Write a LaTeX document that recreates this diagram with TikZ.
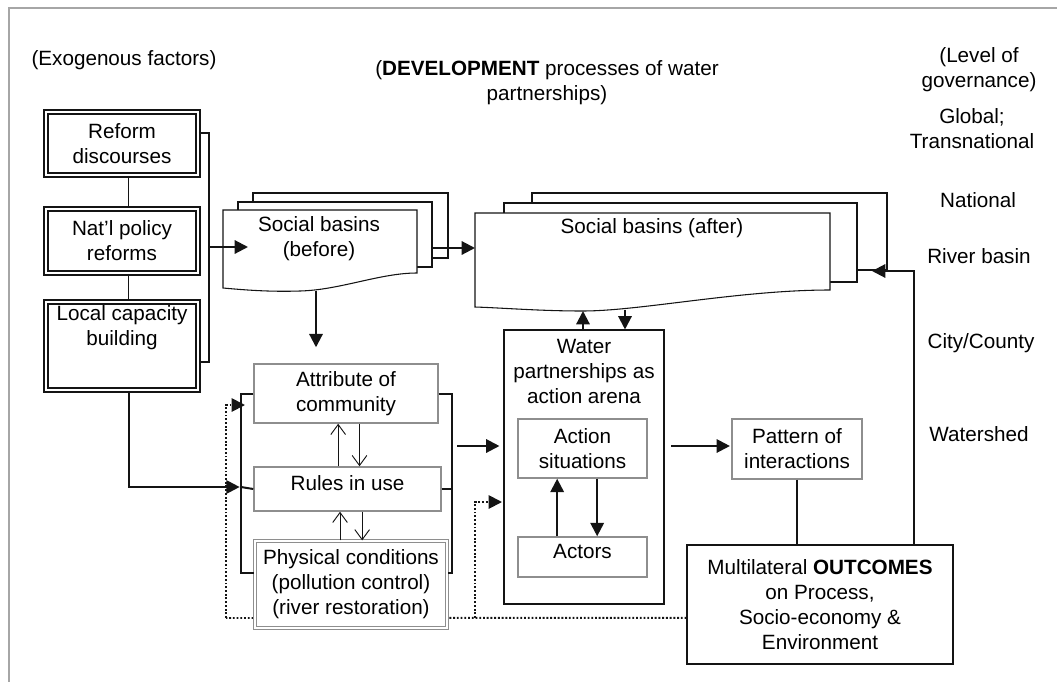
\documentclass[tikz,border=0pt]{standalone}
\usepackage{fontspec}
\setmainfont{Liberation Sans}
\usepackage{tikz}
\usetikzlibrary{arrows.meta,backgrounds,positioning}
\definecolor{WPGray}{HTML}{8E8E8E}
\definecolor{WPFrame}{HTML}{A6A6A6}
\definecolor{WPInk}{HTML}{141414}
\tikzset{
  exobox/.style={
    draw=WPInk,
    double=white,
    double distance=1.4pt,
    line width=1.4pt,
    fill=white,
    align=center,
    inner sep=2pt
  },
  graybox/.style={
    draw=WPGray,
    line width=1.1pt,
    fill=white,
    align=center,
    inner sep=2pt
  },
  graydouble/.style={graybox,double=white,double distance=1.6pt,line width=0.9pt},
  plainbox/.style={draw=WPInk,line width=0.8pt,fill=white,align=center,inner sep=2pt},
  page/.style={draw=WPInk,line width=0.8pt,fill=white},
  arrow/.style={-{Triangle[length=10pt,width=10pt]},draw=WPInk,line width=1.6pt},
  thinarrow/.style={-{Straight Barb[length=7.5pt,width=11pt]},draw=WPInk,line width=0.7pt},
  bracket/.style={draw=WPInk,line width=1.5pt},
  link/.style={draw=WPInk,line width=0.8pt},
  dotline/.style={draw=WPInk,line width=1.4pt,dash pattern=on 1.4pt off 1.4pt},
  dotarrow/.style={dotline,-{Triangle[length=10pt,width=10pt]}},
  frame/.style={draw=WPFrame,line width=0.9pt}
}

\begin{document}
\begin{tikzpicture}[x=0.75pt,y=-0.75pt,font=\fontsize{15.5}{18.75}\selectfont]
  \useasboundingbox (0,0) rectangle (1057,682);
  \draw[frame] (9,682) -- (9,8) -- (1057,8);

  % headings and governance levels
  \node (exohead) at (124,60) {(Exogenous factors)};
  \node[align=center] (devhead) at (547,83) {(\textbf{DEVELOPMENT} processes of water\\partnerships)};
  \node[align=center] (govhead) at (979,70) {(Level of\\governance)};
  \node[align=center] (global) at (972,129) {Global;\\Transnational};
  \node (national) at (978,200) {National};
  \node (riverbasin) at (979,256) {River basin};
  \node (citycounty) at (981,343) {City/County};
  \node (watershed) at (979,434) {Watershed};

  % exogenous factors
  \node[exobox,minimum width=114pt,minimum height=47.25pt] (reform) at (122,143.5) {Reform\\discourses};
  \node[exobox,minimum width=114pt,minimum height=48pt] (natl) at (122,241) {Nat’l policy\\reforms};
  \node[exobox,minimum width=114pt,minimum height=66pt,
    label={[align=center,anchor=north]north:{Local capacity\\building}}] (local) at (122,346) {};
  \draw[link] ([xshift=5pt]reform.south) -- ([xshift=5pt]natl.north);
  \draw[link] ([xshift=5pt]natl.south) -- ([xshift=5pt]local.north);
  \coordinate (exoR) at (209,247);
  \draw[bracket] ([yshift=7.9pt]reform.east) -| (exoR) |- ([yshift=-12pt]local.east);

  % social basins, before and after
  \draw[page] (253,193) rectangle (448,258);
  \draw[page] (238,202) rectangle (432,267);
  \draw[page] (223,210) -- (417,210) -- (417,273)
    .. controls (380,273) and (340,290) .. (300,291)
    .. controls (270,292) and (245,290) .. (223,288) -- cycle;
  \node[align=center] (before) at (319,238.5) {Social basins\\(before)};
  \draw[page] (532,193) rectangle (887,270);
  \draw[page] (504,203) rectangle (857,282);
  \draw[page] (475,213) -- (830,213) -- (830,290)
    .. controls (740,290) and (640,311) .. (583,311)
    .. controls (540,311) and (505,308) .. (475,307) -- cycle;
  \node (after) at (652,228) {Social basins (after)};
  \coordinate (beforeIn) at (248,247);
  \coordinate (beforeR) at (432,248);
  \coordinate (beforeB) at (316,291);
  \coordinate (afterL) at (475,248);
  \coordinate (afterB1) at (583,311);
  \coordinate (afterB2) at (625,310);
  \coordinate (afterR) at (872,271);

  % community, rules, physical conditions
  \node[graybox,minimum width=138pt,minimum height=44.25pt] (attr) at (346,393.5) {Attribute of\\community};
  \node[graybox,minimum width=140.25pt,minimum height=33pt,text depth=9pt] (rules) at (347.5,489) {Rules in use};
  \node[graydouble,minimum width=144pt,minimum height=65.25pt] (phys) at (351,584.5)
    {Physical conditions\\(pollution control)\\(river restoration)};

  % action arena
  \node[plainbox,minimum width=120pt,minimum height=205.5pt,
    label={[align=center,anchor=north,yshift=-3.5pt]north:{Water\\partnerships as\\action arena}}] (arena) at (584,467) {};
  \node[graybox,minimum width=96.75pt,minimum height=44.25pt] (action) at (582.5,448.5) {Action\\situations};
  \node[graybox,minimum width=96.75pt,minimum height=30pt,text depth=8pt] (actors) at (582.5,557) {Actors};
  \node[graybox,minimum width=97.5pt,minimum height=45pt] (pattern) at (797,449) {Pattern of\\interactions};
  \node[plainbox,minimum width=199.5pt,minimum height=89.25pt] (outc) at (820,604.5)
    {Multilateral \textbf{OUTCOMES}\\on Process,\\Socio-economy \&\\Environment};

  % connectors
  \draw[arrow] (exoR) -- (beforeIn);
  \draw[arrow] (beforeR) -- (afterL);
  \draw[arrow,shorten >=12pt] (beforeB) -- (beforeB |- attr.north);
  \coordinate (lbr) at (241,487);
  \draw[bracket] (attr.west) -| (lbr) |- ([yshift=8.6pt]phys.west);
  \draw[bracket] (lbr) -- (rules.west);
  \draw[arrow,shorten >=1pt] ([xshift=5pt]local.south) |- (lbr);
  \coordinate (rbr) at (452,446);
  \draw[bracket] (attr.east) -| (rbr) |- ([yshift=9pt]phys.east);
  \draw[bracket] (rules.east) -- (rules.east -| rbr);
  \draw[arrow,shorten <=4pt,shorten >=3pt] (rbr) -- (rbr -| arena.west);
  \draw[arrow,shorten <=5pt,shorten >=1pt] (rbr -| arena.east) -- (rbr -| pattern.west);
  \draw[bracket] (pattern.south) -- (pattern.south |- outc.north);
  \draw[arrow] ([xshift=70.5pt]outc.north) |- (afterR);
  \draw[arrow] (afterB1 |- arena.north) -- (afterB1);
  \draw[arrow] (afterB2) -- (afterB2 |- arena.north);
  \draw[arrow] ([xshift=-19pt]actors.north) -- ([xshift=-19pt]action.south);
  \draw[arrow] ([xshift=11pt]action.south) -- ([xshift=11pt]actors.north);
  \draw[thinarrow] ([xshift=-7pt]rules.north) -- ([xshift=-7pt]rules.north |- attr.south);
  \draw[thinarrow] ([xshift=9pt]rules.north |- attr.south) -- ([xshift=9pt]rules.north);
  \draw[thinarrow] ([xshift=-5.6pt]rules.south |- phys.north) -- ([xshift=-5.6pt]rules.south);
  \draw[thinarrow] ([xshift=11pt]rules.south) -- ([xshift=11pt]rules.south |- phys.north);

  % feedback from outcomes
  \begin{scope}[on background layer]
    \coordinate (dotL) at (226,618);
    \coordinate (dotM) at (475,618);
    \coordinate (attrIn) at (245,405);
    \coordinate (arenaIn) at (502,502);
    \draw[dotline] ([yshift=-10pt]outc.west) -- (dotL);
    \draw[dotarrow] (dotL) |- (attrIn);
    \draw[dotarrow] (dotM) |- (arenaIn);
  \end{scope}
\end{tikzpicture}
\end{document}
